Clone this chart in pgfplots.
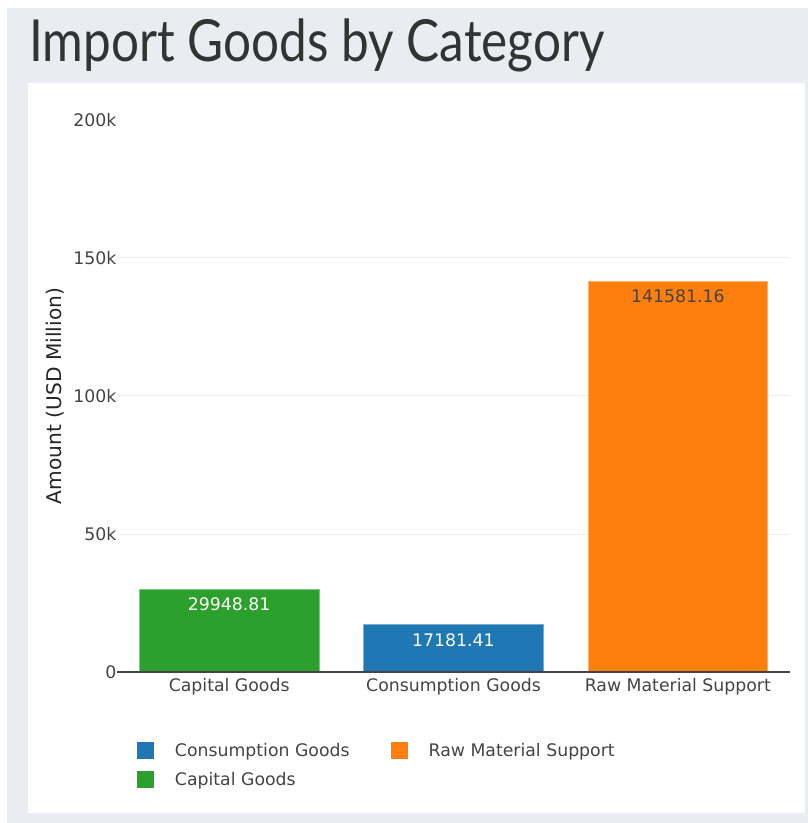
\documentclass[border=0pt]{standalone}
\usepackage{pgfplots}
\pgfplotsset{compat=1.18}
\usepackage{fontspec}
\setmainfont{DejaVu Sans}
\newfontfamily\titlefont[FakeStretch=0.853]{Lato}
\definecolor{bg}{HTML}{E9EDF2}
\definecolor{cgreen}{HTML}{2CA02C}
\definecolor{cblue}{HTML}{1F77B4}
\definecolor{corange}{HTML}{FF7F0E}
\definecolor{txt}{HTML}{444444}
\definecolor{gridc}{HTML}{EEEEEE}
\pgfplotsset{sq legend/.style={legend image code/.code={\draw[##1, draw=none] (0pt,-6.8pt) rectangle (17pt,10.2pt);}}}
\begin{document}
\begin{tikzpicture}[x=1pt,y=1pt]
\useasboundingbox (0,0) rectangle (808,823);
\fill[white] (0,0) rectangle (808,823);
\fill[bg] (7,0) rectangle (808,815);
\fill[white] (28,10) rectangle (805,740);
\node[anchor=base west, inner sep=0pt, text=black!80, font=\titlefont\fontsize{58}{60}\selectfont] at (29,761) {Import Goods by Category};
\begin{axis}[
  at={(117pt,151pt)}, anchor=south west, scale only axis,
  width=673pt, height=552pt,
  xmin=-0.5, xmax=2.5, ymin=0, ymax=200000,
  scaled y ticks=false,
  axis line style={draw=none},
  major tick length=0pt,
  xtick={0,1,2}, xticklabels={Capital Goods, Consumption Goods, Raw Material Support},
  ytick={0,50000,100000,150000,200000}, yticklabels={0,50k,100k,150k,200k},
  extra y ticks={50000,100000,150000}, extra y tick labels={},
  extra y tick style={grid=major},
  major grid style={draw=gridc, line width=1pt},
  tick label style={font=\fontsize{17.3}{20}\selectfont, text=txt},
  yticklabel style={xshift=3pt},
  xticklabel style={yshift=-3pt},
  ylabel={Amount (USD Million)},
  every axis y label/.style={at={(axis description cs:-0.0921,0.5)}, rotate=90, anchor=center, font=\fontsize{20.2}{24}\selectfont, text=black!85},
  ybar, bar width=0.8, bar shift=0pt,
  point meta=explicit symbolic,
  nodes near coords,
  every node near coord/.append style={anchor=north, yshift=-5pt, font=\fontsize{17.3}{20}\selectfont},
  legend columns=2,
  legend cell align=left,
  legend style={draw=none, fill=none, inner sep=0pt, outer sep=0pt, row sep=10.3pt,
    font=\fontsize{17.3}{20}\selectfont, text=txt,
    at={(axis description cs:0.0297,-0.1268)}, anchor=north west,
    nodes={inner sep=0pt, text height=13pt, text depth=4pt},
    /tikz/every odd column/.style={column sep=21pt},
    /tikz/every even column/.style={column sep=41pt}},
]
\addplot[fill=cblue, draw=cblue!60!white, line width=0.6pt, sq legend,
  every node near coord/.append style={text=white}]
  coordinates {(1,17181.41) [17181.41]};
\addlegendentry{Consumption Goods}
\addplot[fill=corange, draw=corange!60!white, line width=0.6pt, sq legend,
  every node near coord/.append style={text=txt}]
  coordinates {(2,141581.16) [141581.16]};
\addlegendentry{Raw Material Support}
\addplot[fill=cgreen, draw=cgreen!60!white, line width=0.6pt, sq legend,
  every node near coord/.append style={text=white}]
  coordinates {(0,29948.81) [29948.81]};
\addlegendentry{Capital Goods}
\draw[txt, line width=1.5pt] (axis cs:-0.5,0) -- (axis cs:2.5,0);
\end{axis}
\end{tikzpicture}
\end{document}
